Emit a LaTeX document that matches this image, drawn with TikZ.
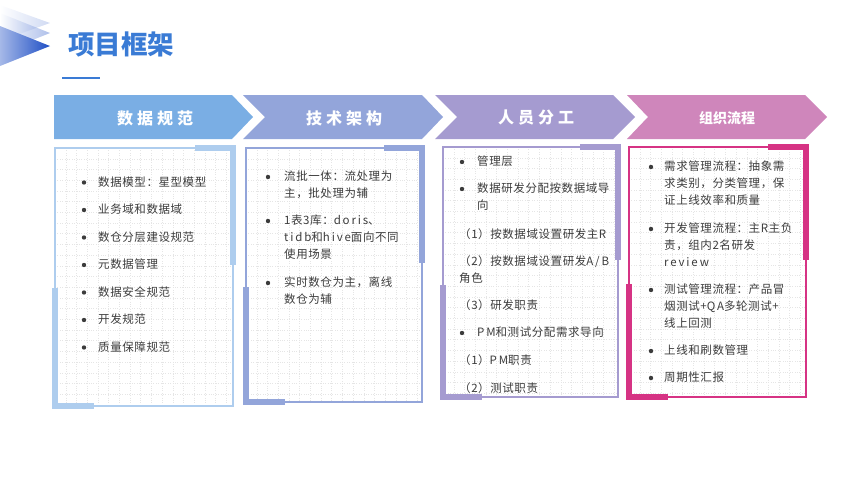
\documentclass[tikz,border=0pt]{standalone}
\usepackage{fontspec}
\setmainfont{Noto Sans CJK SC}
\newfontfamily\bodyfont[LetterSpace=5]{Noto Sans CJK SC}
\newfontfamily\chevfont[LetterSpace=25]{Noto Sans CJK SC}
\newcommand\lat[1]{{\addfontfeature{LetterSpace=16}#1}}
\usepackage{xcolor}
\usetikzlibrary{positioning}

\definecolor{titleblue}{HTML}{3A7BD5}
\definecolor{textgray}{HTML}{3C3C3C}
\definecolor{chevA}{HTML}{7AAEE4}
\definecolor{chevB}{HTML}{93A5DA}
\definecolor{chevC}{HTML}{A59BD0}
\definecolor{chevD}{HTML}{CF86BB}
\definecolor{boxA}{HTML}{AECDEE}
\definecolor{boxB}{HTML}{93A5DA}
\definecolor{boxC}{HTML}{A59BD0}
\definecolor{boxD}{HTML}{D63384}
\definecolor{tridark}{HTML}{1F4FC5}

\begin{document}
\begin{tikzpicture}[x=1pt,y=-1pt,
  gridline/.style={gray!20,line width=0.4pt,dotted},
  itemtext/.style={anchor=north west,inner sep=0pt,align=left,text=textgray,
                   font=\bodyfont\fontsize{11.5}{17}\selectfont},
  chevtext/.style={text=white,font=\chevfont\bfseries\fontsize{16}{16}\selectfont}]
  \useasboundingbox (0,0) rectangle (852,477);

  % corner triangles
  \shade[left color=white,right color=tridark!60,fill opacity=0.35] (0,5) -- (50,23) -- (0,41) -- cycle;
  \shade[left color=white,right color=tridark!80,fill opacity=0.45] (0,13) -- (50,33) -- (0,53) -- cycle;
  \shade[left color=tridark!40,right color=tridark] (0,26) -- (50,46) -- (0,66) -- cycle;

  % title
  \node[text=titleblue,font=\bfseries\fontsize{26.5}{26.5}\selectfont] (title) at (121,44) {项目框架};
  \draw[titleblue,line width=2pt] (62,78) -- (100,78);

  % chevrons
  \fill[chevA] (54,95) -- (232,95) -- (253,117) -- (232,139) -- (54,139) -- cycle;
  \fill[chevB] (243,95) -- (422,95) -- (443,117) -- (422,139) -- (243,139) -- (265,117) -- cycle;
  \fill[chevC] (435,95) -- (613,95) -- (635,117) -- (613,139) -- (435,139) -- (457,117) -- cycle;
  \fill[chevD] (627,95) -- (805,95) -- (827,117) -- (805,139) -- (627,139) -- (648,117) -- cycle;
  \node[chevtext] (spec) at (155,118) {数据规范};
  \node[chevtext] (arch) at (344,118) {技术架构};
  \node[chevtext] (team) at (536,118) {人员分工};
  \node[text=white,font=\bfseries\fontsize{14}{14}\selectfont] (flow) at (727,118) {组织流程};

  % boxes: grid, border, corner accents
  \foreach \x/\y/\xx/\yy/\c/\ay/\by/\w in {55/148/233/406/boxA/265/288/1.5,
                                           246/148/422/402/boxB/263/287/1.5,
                                           443/147/618/397/boxC/260/285/1.5,
                                           629/147/806/397/boxD/260/284/2}{
    \begin{scope}
      \clip (\x,\y) rectangle (\xx,\yy);
      \foreach \g in {0,...,17} \draw[gridline] (\x+\g*10.7,\y) -- (\x+\g*10.7,\yy);
      \foreach \g in {0,...,24} \draw[gridline] (\x,\y+\g*10.7) -- (\xx,\y+\g*10.7);
    \end{scope}
    \draw[\c,line width=\w pt] (\x,\y) rectangle (\xx,\yy);
    \draw[\c,line width=6pt] (\xx-38,\y) -- (\xx,\y) -- (\xx,\ay);
    \draw[\c,line width=6pt] (\x,\by) -- (\x,\yy) -- (\x+39,\yy);
  }

  % box 1
  \foreach \t [count=\i] in {数据模型：星型模型,业务域和数据域,数仓分层建设规范,元数据管理,
                             数据安全规范,开发规范,质量保障规范}{
    \fill[textgray] (84,155+\i*27.5) circle (2.2);
    \node[itemtext] (specitem\i) at (98,149+\i*27.5) {\t};
  }

  % box 2
  \fill[textgray] (268,177) circle (2.2);
  \node[itemtext] (architem1) at (284,171) {流批一体：流处理为\\主，批处理为辅};
  \fill[textgray] (268,221) circle (2.2);
  \node[itemtext] (architem2) at (284,215) {1表3库：\lat{doris}、\\\lat{tidb}和\lat{hive}面向不同\\使用场景};
  \fill[textgray] (268,283) circle (2.2);
  \node[itemtext] (architem3) at (284,277) {实时数仓为主，离线\\数仓为辅};

  % box 3
  \fill[textgray] (462,162) circle (2.2);
  \node[itemtext] (teamitem1) at (477,156) {管理层};
  \fill[textgray] (462,189) circle (2.2);
  \node[itemtext] (teamitem2) at (477,183) {数据研发分配按数据域导\\向};
  \node[itemtext] (teamitem3) at (459,228) {（1）按数据域设置研发主R};
  \node[itemtext] (teamitem4) at (459,255) {（2）按数据域设置研发\lat{A/B}\\角色};
  \node[itemtext] (teamitem5) at (459,299) {（3）研发职责};
  \fill[textgray] (462,333) circle (2.2);
  \node[itemtext] (teamitem6) at (477,327) {\lat{PM}和测试分配需求导向};
  \node[itemtext] (teamitem7) at (459,354) {（1）\lat{PM}职责};
  \node[itemtext] (teamitem8) at (459,382) {（2）测试职责};

  % box 4
  \fill[textgray] (651,167) circle (2.2);
  \node[itemtext] (flowitem1) at (664,161) {需求管理流程：抽象需\\求类别，分类管理，保\\证上线效率和质量};
  \fill[textgray] (651,229) circle (2.2);
  \node[itemtext] (flowitem2) at (664,223) {开发管理流程：主R主负\\责，组内2名研发\\\lat{review}};
  \fill[textgray] (651,290) circle (2.2);
  \node[itemtext] (flowitem3) at (664,284) {测试管理流程：产品冒\\烟测试+\lat{QA}多轮测试+\\线上回测};
  \fill[textgray] (651,351) circle (2.2);
  \node[itemtext] (flowitem4) at (664,345) {上线和刷数管理};
  \fill[textgray] (651,378) circle (2.2);
  \node[itemtext] (flowitem5) at (664,372) {周期性汇报};
\end{tikzpicture}
\end{document}
